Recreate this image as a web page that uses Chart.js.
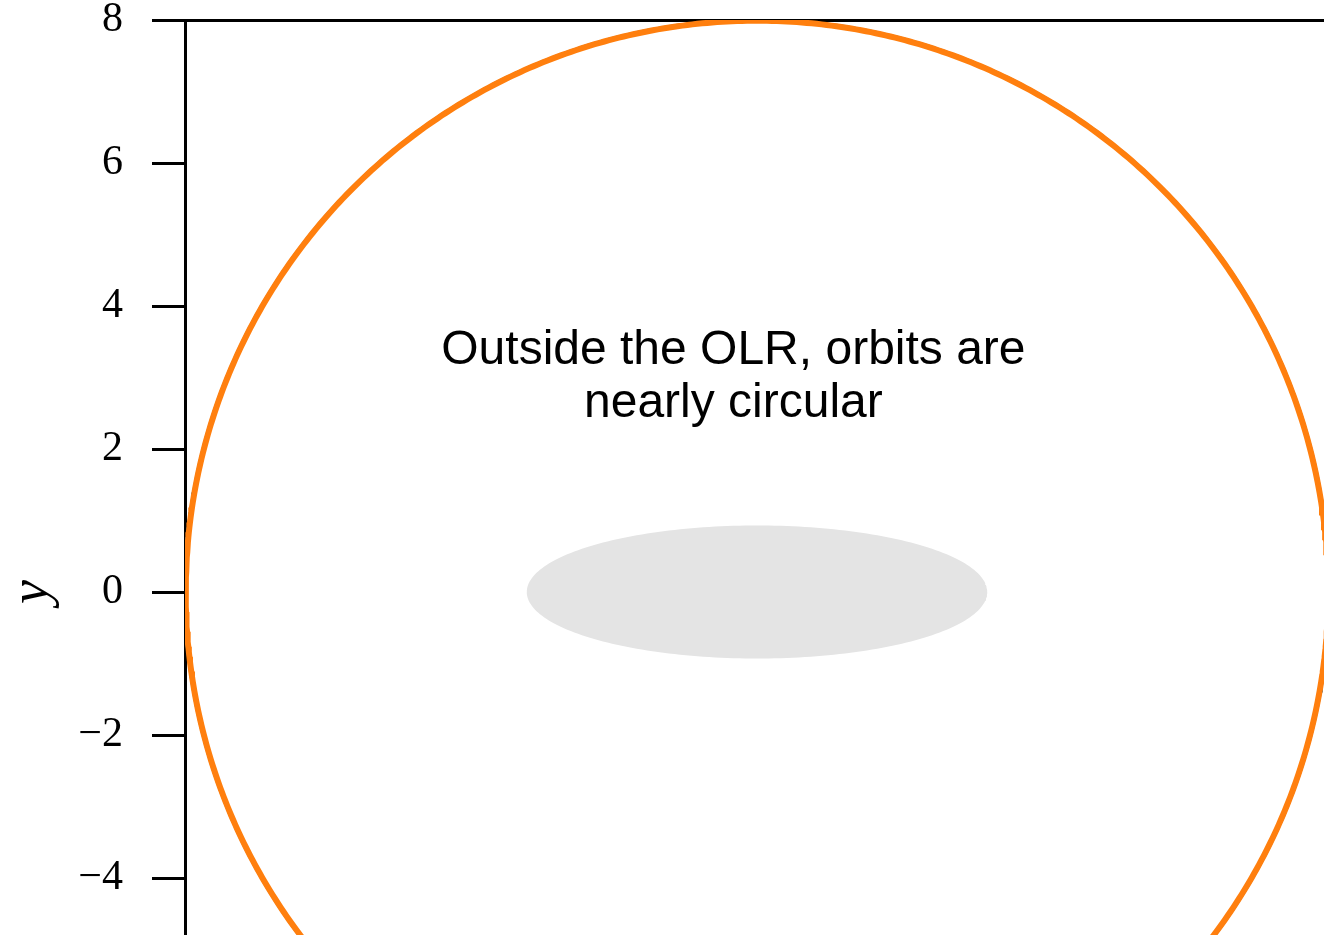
<!DOCTYPE html>
<html lang="en">
<head>
    <meta charset="UTF-8">
    <title>Orbits outside the OLR</title>
    <script src="https://cdn.jsdelivr.net/npm/chart.js"></script>
    <style>
        body {
            margin: 0;
            padding: 0;
            background-color: white;
            overflow: hidden;
        }
        .chart-container {
            position: absolute;
            left: 0;
            top: 0;
            width: 1400px;
            height: 1200px;
        }
    </style>
</head>
<body>
    <div class="chart-container">
        <canvas id="orbitChart" width="1400" height="1200"></canvas>
    </div>

    <script>
        // Axis limits and ticks
        const xRange = [-8, 8];
        const yRange = [-8, 8];
        const yTickValues = [-8, -6, -4, -2, 0, 2, 4, 6, 8];

        // Orbit (two overlaid runs) and the grey inner region
        const orbitCenter = [0, 0];
        const orbitRadii = [8.01, 7.99];
        const orbitColors = ['#1f77b4', '#ff7f0e'];
        const orbitWidths = [2, 6];
        const innerCenter = [0, 0];
        const innerSemiAxes = [3.22, 0.93];

        // Annotation
        const noteLines = ['Outside the OLR, orbits are', 'nearly circular'];
        const notePos = [-0.33, 3.0];

        function ellipsePoints(cx, cy, a, b, n) {
            const pts = [];
            for (let i = 0; i <= n; i++) {
                const t = 2 * Math.PI * i / n;
                pts.push({ x: cx + a * Math.cos(t), y: cy + b * Math.sin(t) });
            }
            return pts;
        }

        // lower `order` is drawn on top
        const datasets = [{
            label: 'inner',
            data: ellipsePoints(innerCenter[0], innerCenter[1], innerSemiAxes[0], innerSemiAxes[1], 240),
            showLine: true,
            fill: 'shape',
            backgroundColor: '#e4e4e4',
            borderColor: '#e4e4e4',
            borderWidth: 0,
            pointRadius: 0,
            tension: 0,
            order: 10
        }];
        orbitRadii.forEach((r, i) => {
            datasets.push({
                label: 'orbit ' + i,
                data: ellipsePoints(orbitCenter[0], orbitCenter[1], r, r, 720),
                showLine: true,
                fill: false,
                borderColor: orbitColors[i],
                borderWidth: orbitWidths[i],
                pointRadius: 0,
                tension: 0,
                order: orbitRadii.length - i
            });
        });

        // Centered multi-line text placed in data coordinates
        const notePlugin = {
            id: 'note',
            afterDatasetsDraw(chart) {
                const ctx = chart.ctx;
                const x = chart.scales.x.getPixelForValue(notePos[0]);
                const y = chart.scales.y.getPixelForValue(notePos[1]);
                const lh = 53;
                ctx.save();
                ctx.fillStyle = '#000';
                ctx.font = '48px "Liberation Sans", Arial, sans-serif';
                ctx.textAlign = 'center';
                ctx.textBaseline = 'middle';
                noteLines.forEach((line, i) => {
                    ctx.fillText(line, x, y + (i - (noteLines.length - 1) / 2) * lh);
                });
                ctx.restore();
            }
        };

        const minus = v => String(v).replace('-', '\u2212');

        // keep the plot box exactly where the axis sizes put it
        const noPad = s => { s.paddingTop = 0; s.paddingBottom = 0; s.paddingLeft = 0; s.paddingRight = 0; };

        new Chart(document.getElementById('orbitChart').getContext('2d'), {
            type: 'scatter',
            data: { datasets },
            plugins: [notePlugin],
            options: {
                responsive: false,
                animation: false,
                devicePixelRatio: 1,
                layout: { padding: { left: 0, top: 0, right: 71, bottom: 0 } },
                plugins: {
                    legend: { display: false },
                    tooltip: { enabled: false }
                },
                scales: {
                    x: {
                        type: 'linear',
                        position: 'bottom',
                        min: xRange[0],
                        max: xRange[1],
                        grid: { display: false },
                        border: { color: '#000', width: 3 },
                        ticks: { display: false },
                        afterFit: s => { s.height = 36; noPad(s); }
                    },
                    xTop: {
                        type: 'linear',
                        position: 'top',
                        min: xRange[0],
                        max: xRange[1],
                        grid: { display: false },
                        border: { color: '#000', width: 3 },
                        ticks: { display: false },
                        afterFit: s => { s.height = 20; noPad(s); }
                    },
                    y: {
                        type: 'linear',
                        min: yRange[0],
                        max: yRange[1],
                        afterBuildTicks: s => { s.ticks = yTickValues.map(v => ({ value: v })); },
                        grid: {
                            drawOnChartArea: false,
                            drawTicks: true,
                            tickLength: 33,
                            tickWidth: 3,
                            tickColor: '#000'
                        },
                        border: { color: '#000', width: 3 },
                        ticks: {
                            color: '#000',
                            padding: 29,
                            font: { family: '"Liberation Serif", "DejaVu Serif", serif', size: 42 },
                            callback: v => minus(v)
                        },
                        title: {
                            display: true,
                            text: 'y',
                            color: '#000',
                            padding: 0,
                            font: { family: '"Liberation Serif", "DejaVu Serif", serif', size: 54, style: 'italic' }
                        },
                        afterFit: s => { s.width = 185; noPad(s); }
                    }
                }
            }
        });
    </script>
</body>
</html>
